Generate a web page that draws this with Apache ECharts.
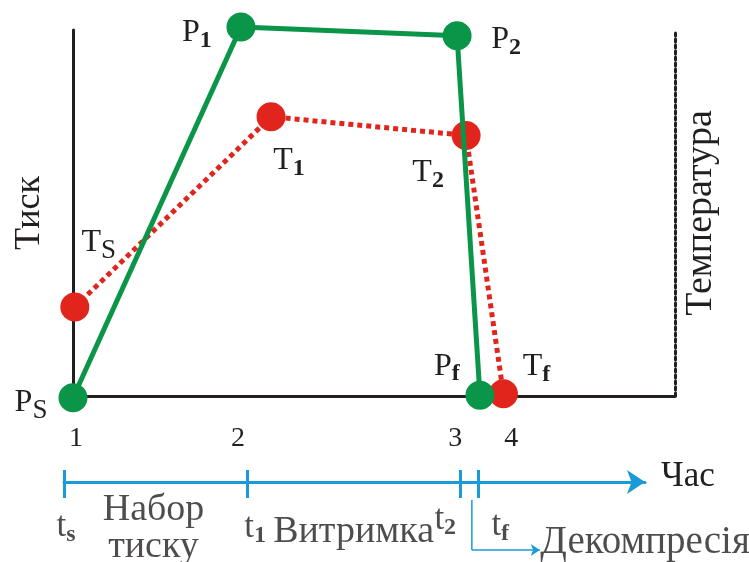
<!DOCTYPE html>
<html>
<head>
<meta charset="utf-8">
<title>Тиск і температура</title>
<script src="https://cdn.jsdelivr.net/npm/echarts@6/dist/echarts.min.js"></script>
<style>
    html, body {margin: 0; padding: 0; background: #fff;}
    #chart {width: 749px; height: 562px;}
</style>
</head>
<body>
<div id="chart"></div>
<script>
// pressure curve P (x: time 0-100, y: level 0-100)
var pressureSubs = ['S', '1', '2', 'f'];
var pressureX = [0, 27.9, 63.8, 67.6];
var pressureY = [-0.5, 100.8, 98.4, 0.2];

// temperature curve T
var tempSubs = ['S', '1', '2', 'f'];
var tempX = [0.3, 32.9, 65.3, 71.5];
var tempY = [24.3, 76.3, 71.2, 0.6];

// numbered points under the main axis
var stageX = [0.5, 27.4, 63.5, 72.8];
var stageLabels = ['1', '2', '3', '4'];

// lower time line (x: 0-100, y: 0 on the line)
var phaseTicks = [0, 31.5, 68.2, 71.3];
var phaseTickSubs = ['s', '1', '2', 'f'];
var phaseNames = ['Набор\nтиску', 'Витримка', 'Декомпресія'];
var decompressPath = [[70.2, -1.8], [70.2, -6.8], [81.9, -6.8]];

var INK = '#231f20';
var GREEN = '#0a9548';
var RED = '#e1251d';
var BLUE = '#1b9ad8';
var SERIF = 'Liberation Serif';

// label offsets around the points, in pixels
var pLabelOffset = [[-42, 5], [-44, 6], [49, 4], [-33, -29]];
var tLabelOffset = [[24, -64], [18, 44], [-38, 37], [33, -27]];
var tickLabelOffset = [[2, 45], [8, 46], [-15, 38], [22, 44]];
var phaseLabelOffset = [[-2, 47], [0, 50], [0, -7]];

var subRich = {
    m: {fontFamily: SERIF, fontSize: 32, color: INK},
    t: {fontFamily: SERIF, fontSize: 35, color: INK},
    s: {fontFamily: SERIF, fontSize: 24, fontWeight: 'bold', color: INK, padding: [16, 0, 0, 0]},
    S: {fontFamily: SERIF, fontSize: 27, color: INK, padding: [16, 0, 0, 0]}
};

function subText(letter, sub) {
    var style = sub === 'S' ? 'S' : 's';
    return '{m|' + letter + '}{' + style + '|' + sub + '}';
}

function curveData(letter, xs, ys, subs, offsets) {
    return xs.map(function (x, i) {
        return {
            value: [x, ys[i]],
            label: {
                formatter: subText(letter, subs[i]),
                offset: offsets[i]
            }
        };
    });
}

function curveSeries(name, letter, xs, ys, subs, offsets, color, lineType, z) {
    return {
        name: name,
        type: 'line',
        xAxisIndex: 0,
        yAxisIndex: 0,
        clip: false,
        z: z,
        symbol: 'circle',
        symbolSize: 29,
        itemStyle: {color: color, borderWidth: 0},
        lineStyle: {color: color, width: 5, type: lineType},
        label: {show: true, position: 'inside', rich: subRich},
        emphasis: {disabled: true},
        data: curveData(letter, xs, ys, subs, offsets)
    };
}

var tickMarks = phaseTicks.map(function (v) {
    return [{coord: [v, 1.2]}, {coord: [v, -1.6]}];
});

var phaseAnchors = [
    [(phaseTicks[0] + phaseTicks[1]) / 2, 0],
    [(phaseTicks[1] + phaseTicks[2]) / 2, 0],
    decompressPath[decompressPath.length - 1]
];

var chart = echarts.init(document.getElementById('chart'));

var option = {
    animation: false,
    backgroundColor: '#fff',
    grid: [
        {left: 73, right: 74, top: 30, bottom: 166, outerBoundsMode: 'none'},
        {left: 64, right: 104, top: 442, height: 120, outerBoundsMode: 'none'}
    ],
    xAxis: [
        {
            type: 'value',
            gridIndex: 0,
            min: 0,
            max: 100,
            axisLine: {onZero: false, lineStyle: {color: INK, width: 3}},
            axisTick: {show: false},
            splitLine: {show: false},
            axisLabel: {
                customValues: stageX,
                margin: 29,
                fontFamily: SERIF,
                fontSize: 28,
                color: INK,
                formatter: function (v) {
                    var best = 0;
                    stageX.forEach(function (x, i) {
                        if (Math.abs(x - v) < Math.abs(stageX[best] - v)) {
                            best = i;
                        }
                    });
                    return stageLabels[best];
                }
            }
        },
        {
            type: 'value',
            gridIndex: 1,
            min: 0,
            max: 100,
            name: 'Час',
            nameLocation: 'end',
            nameGap: 16,
            nameTextStyle: {
                fontFamily: SERIF,
                fontSize: 35,
                color: INK,
                verticalAlign: 'bottom',
                lineHeight: 10
            },
            axisLine: {
                onZero: true,
                symbol: ['none', 'arrow'],
                symbolSize: [18, 18],
                lineStyle: {color: BLUE, width: 3}
            },
            axisTick: {show: false},
            axisLabel: {show: false},
            splitLine: {show: false}
        }
    ],
    yAxis: [
        {
            type: 'value',
            gridIndex: 0,
            min: 0,
            max: 100,
            name: 'Тиск',
            nameLocation: 'middle',
            nameRotate: 90,
            nameGap: 25,
            nameTextStyle: {fontFamily: SERIF, fontSize: 36, color: INK},
            axisLine: {show: true, onZero: false, lineStyle: {color: INK, width: 3}},
            axisTick: {show: false},
            axisLabel: {show: false},
            splitLine: {show: false}
        },
        {
            type: 'value',
            gridIndex: 0,
            position: 'right',
            min: 0,
            max: 100,
            name: 'Температура',
            nameLocation: 'middle',
            nameRotate: 90,
            nameGap: 7,
            nameTextStyle: {fontFamily: SERIF, fontSize: 38, color: INK},
            axisLine: {show: true, onZero: false, lineStyle: {color: INK, width: 3, type: 'dotted'}},
            axisTick: {show: false},
            axisLabel: {show: false},
            splitLine: {show: false}
        },
        {
            type: 'value',
            gridIndex: 1,
            min: -8,
            max: 4,
            show: false
        }
    ],
    series: [
        curveSeries('T', 'T', tempX, tempY, tempSubs, tLabelOffset, RED, [5, 4], 2),
        curveSeries('P', 'P', pressureX, pressureY, pressureSubs, pLabelOffset, GREEN, 'solid', 3),
        {
            // time line ticks with t labels
            name: 'ticks',
            type: 'scatter',
            xAxisIndex: 1,
            yAxisIndex: 2,
            clip: false,
            symbolSize: 1,
            itemStyle: {color: 'rgba(0,0,0,0)'},
            label: {show: true, position: 'inside', rich: subRich},
            emphasis: {disabled: true},
            data: phaseTicks.map(function (v, i) {
                return {
                    value: [v, 0],
                    label: {
                        formatter: '{t|t}{s|' + phaseTickSubs[i] + '}',
                        offset: tickLabelOffset[i]
                    }
                };
            }),
            markLine: {
                silent: true,
                symbol: 'none',
                label: {show: false},
                lineStyle: {color: BLUE, width: 3, type: 'solid'},
                data: tickMarks
            }
        },
        {
            // decompression pointer
            name: 'decompress',
            type: 'line',
            xAxisIndex: 1,
            yAxisIndex: 2,
            clip: false,
            symbol: 'none',
            lineStyle: {color: BLUE, width: 1.5},
            data: decompressPath.slice(0, 2),
            markLine: {
                silent: true,
                symbol: ['none', 'arrow'],
                symbolSize: 9,
                label: {show: false},
                lineStyle: {color: BLUE, width: 1.5, type: 'solid'},
                data: [[{coord: decompressPath[1]}, {coord: decompressPath[2]}]]
            }
        },
        {
            // phase names
            name: 'phases',
            type: 'scatter',
            xAxisIndex: 1,
            yAxisIndex: 2,
            clip: false,
            symbolSize: 1,
            itemStyle: {color: 'rgba(0,0,0,0)'},
            emphasis: {disabled: true},
            data: phaseAnchors.map(function (p, i) {
                var last = i === phaseAnchors.length - 1;
                return {
                    value: p,
                    label: {
                        show: true,
                        formatter: phaseNames[i],
                        position: last ? 'right' : 'inside',
                        distance: 0,
                        offset: phaseLabelOffset[i],
                        fontFamily: SERIF,
                        fontSize: last ? 39 : 38,
                        lineHeight: 37,
                        color: INK
                    }
                };
            })
        }
    ]
};

chart.setOption(option);
</script>
</body>
</html>
